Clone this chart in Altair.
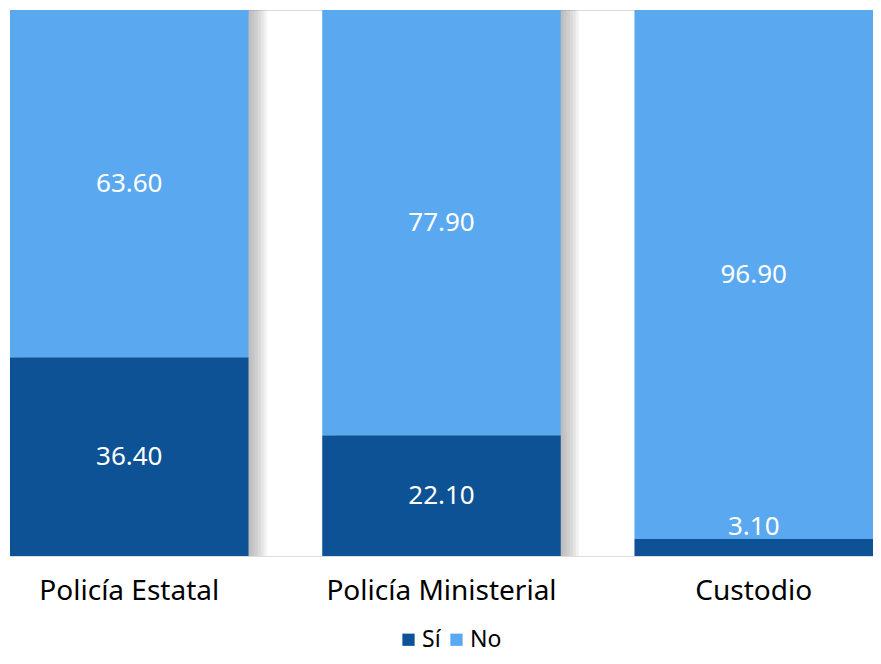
import altair as alt
import pandas as pd

categories = ["Policía Estatal", "Policía Ministerial", "Custodio"]
si_values = [36.40, 22.10, 3.10]
no_values = [63.60, 77.90, 96.90]
series = ["Sí", "No"]
colors = ["#0E5296", "#5AA9F0"]

rows = []
for c, s, n in zip(categories, si_values, no_values):
    rows.append({"cat": c, "serie": "Sí", "val": s, "order": 0})
    rows.append({"cat": c, "serie": "No", "val": n, "order": 1})
df = pd.DataFrame(rows)

FONT = "Noto Sans"

xenc = alt.X("cat:N", sort=categories, title=None,
             scale=alt.Scale(paddingInner=0.236, paddingOuter=0),
             axis=alt.Axis(labelAngle=0, labelFontSize=28, labelColor="#000000",
                           labelFont=FONT, ticks=False, domain=False,
                           labelLimit=400, labelPadding=21))

base = alt.Chart(df)

shadow_layers = []
for k in range(1, 7):
    shadow_layers.append(
        base.mark_bar(color="#808080", opacity=0.11, xOffset=3 * k)
        .encode(x=xenc, y=alt.Y("sum(val):Q", stack=None,
                                scale=alt.Scale(domain=[0, 100]), axis=None))
    )

bars = base.mark_bar().encode(
    x=xenc,
    y=alt.Y("val:Q", stack="zero", scale=alt.Scale(domain=[0, 100]), axis=None),
    color=alt.Color("serie:N", sort=series,
                    scale=alt.Scale(domain=series, range=colors),
                    legend=alt.Legend(title=None, orient="none", direction="horizontal",
                                      legendX=387, legendY=618,
                                      symbolType="square", symbolSize=150,
                                      symbolStrokeWidth=0, symbolOpacity=1,
                                      labelFontSize=23, labelFont=FONT,
                                      labelColor="#000000", columnPadding=4,
                                      labelOffset=2)),
    order=alt.Order("order:Q"),
)

stacked = base.transform_stack(
    stack="val", groupby=["cat"], as_=["v0", "v1"],
    sort=[alt.SortField("order", order="ascending")]
).transform_calculate(mid="(datum.v0 + datum.v1) / 2")

labels_big = stacked.transform_filter("datum.val >= 8").mark_text(
    color="white", fontSize=26, font=FONT, baseline="middle"
).encode(
    x=alt.X("cat:N", sort=categories),
    y=alt.Y("mid:Q", scale=alt.Scale(domain=[0, 100])),
    text=alt.Text("val:Q", format=".2f"),
)

labels_small = stacked.transform_filter("datum.val < 8").mark_text(
    color="white", fontSize=26, font=FONT, baseline="bottom", dy=1
).encode(
    x=alt.X("cat:N", sort=categories),
    y=alt.Y("v1:Q", scale=alt.Scale(domain=[0, 100])),
    text=alt.Text("val:Q", format=".2f"),
)

chart = alt.layer(*shadow_layers, bars, labels_big, labels_small).properties(
    width=863, height=546,
    padding={"left": 2, "top": 2, "right": 0, "bottom": 100},
    autosize=alt.AutoSizeParams(type="none"),
).configure_view(stroke=None).configure(font=FONT)

chart.save("out.html", embed_options={"renderer": "svg", "actions": False})
